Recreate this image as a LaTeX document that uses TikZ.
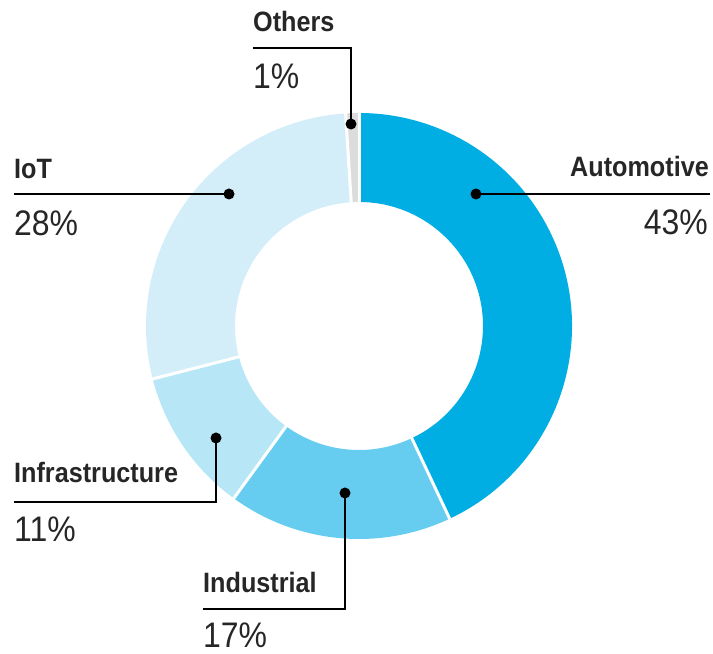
\documentclass[tikz,border=0pt]{standalone}
\usepackage{fontspec}
\setmainfont[FakeStretch=0.9]{Liberation Sans}
\definecolor{autoblue}{HTML}{00AEE4}
\definecolor{indblue}{HTML}{66CDF0}
\definecolor{infrablue}{HTML}{B7E6F6}
\definecolor{iotblue}{HTML}{D4EEF9}
\definecolor{othgrey}{HTML}{DCDCDC}
\definecolor{inkgrey}{HTML}{262626}
\begin{document}
\begin{tikzpicture}[x=1pt,y=1pt,
    segname/.style={inner sep=0pt,font=\fontsize{28}{28}\selectfont\bfseries,text=inkgrey},
    segpct/.style={inner sep=0pt,font=\fontsize{35.5}{35.5}\selectfont,text=inkgrey},
    leaddot/.style={circle,fill=black,inner sep=0pt,minimum size=11pt},
    lead/.style={line width=1.4pt,black}]
  \useasboundingbox (0,0) rectangle (713,654);
  \coordinate (c) at (359,328);
  % ring segments
  \foreach \a/\b/\col in {-64.8/90/autoblue,-126/-64.8/indblue,-165.6/-126/infrablue,93.6/194.4/iotblue,90/93.6/othgrey}
    \fill[\col] ([shift={(\a:213pt)}]c) arc[start angle=\a,end angle=\b,radius=213pt]
      -- ([shift={(\b:124pt)}]c) arc[start angle=\b,end angle=\a,radius=124pt] -- cycle;
  \foreach \a in {90,93.6,-64.8,-126,-165.6}
    \draw[white,line width=3pt] ([shift={(\a:120pt)}]c) -- ([shift={(\a:216pt)}]c);
  % labels
  \path (709,477) node[segname,anchor=base east] (automotive) {Automotive}
        (708,419) node[segpct,anchor=base east] (automotivepct) {43\%}
        (14,475)  node[segname,anchor=base west] (iot) {IoT}
        (14,418)  node[segpct,anchor=base west] (iotpct) {28\%}
        (14,171)  node[segname,anchor=base west] (infra) {Infrastructure}
        (14,112)  node[segpct,anchor=base west] (infrapct) {11\%}
        (203,61)  node[segname,anchor=base west] (industrial) {Industrial}
        (203,6)   node[segpct,anchor=base west] (industrialpct) {17\%}
        (253,622) node[segname,anchor=base west] (others) {Others}
        (253,565) node[segpct,anchor=base west] (otherspct) {1\%};
  % leader dots and ends
  \path (476,460) node[leaddot] (dauto) {}
        (229,460) node[leaddot] (diot) {}
        (216,216) node[leaddot] (dinfra) {}
        (345,161) node[leaddot] (dind) {}
        (351,530) node[leaddot] (doth) {};
  \coordinate (eauto) at (710,460);
  \coordinate (eiot) at (14,460);
  \coordinate (einfra) at (14,152);
  \coordinate (eind) at (203,45);
  \coordinate (eoth) at (253,606);
  \draw[lead] (dauto.center) -- (eauto);
  \draw[lead] (diot.center) -- (eiot);
  \draw[lead] (dinfra.center) |- (einfra);
  \draw[lead] (dind.center) |- (eind);
  \draw[lead] (doth.center) |- (eoth);
\end{tikzpicture}
\end{document}
